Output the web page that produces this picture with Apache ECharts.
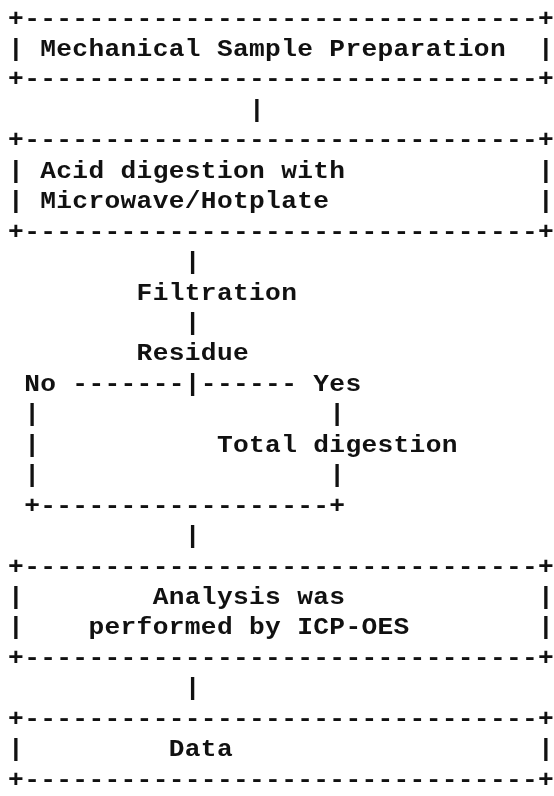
<!DOCTYPE html>
<html>
<head>
<meta charset="utf-8">
<script src="https://cdn.jsdelivr.net/npm/echarts@6/dist/echarts.min.js"></script>
<style>
html,body{margin:0;padding:0;background:#fff}
#main{width:554px;height:796px}
</style>
</head>
<body>
<div id="main"></div>
<script>
// one string per text row, 34 columns wide
var lines = [
	'+--------------------------------+',
	'| Mechanical Sample Preparation  |',
	'+--------------------------------+',
	'               |',
	'+--------------------------------+',
	'| Acid digestion with            |',
	'| Microwave/Hotplate             |',
	'+--------------------------------+',
	'           |',
	'        Filtration',
	'           |',
	'        Residue',
	' No -------|------ Yes',
	' |                  |',
	' |           Total digestion',
	' |                  |',
	' +------------------+',
	'           |',
	'+--------------------------------+',
	'|        Analysis was            |',
	'|    performed by ICP-OES        |',
	'+--------------------------------+',
	'           |',
	'+--------------------------------+',
	'|         Data                   |',
	'+--------------------------------+'
];
var rowIndex = [];
for (var i in lines) {
	rowIndex.push([0, Number(i)]);
}

var charW = 16.1;
var rowH = 30.84;
var myChart = echarts.init(document.getElementById('main'));
var option = {
	backgroundColor: '#fff',
	animation: false,
	grid: {
		left: 16 - charW / 2,
		top: 20 - rowH / 2,
		width: charW * 34,
		height: rowH * 26
	},
	xAxis: {type: 'value', min: 0, max: 34, show: false},
	yAxis: {type: 'value', min: -0.5, max: 25.5, inverse: true, show: false},
	series: [{
		type: 'custom',
		coordinateSystem: 'cartesian2d',
		data: rowIndex,
		encode: {x: 0, y: 1},
		renderItem: function (params, api) {
			var row = api.value(1);
			var text = lines[params.dataIndex];
			var children = [];
			for (var c = 0; c < text.length; c++) {
				var ch = text.charAt(c);
				if (ch === ' ') continue;
				var p = api.coord([c + 0.5, row]);
				children.push({
					type: 'text',
					x: p[0],
					y: p[1],
					scaleX: 1.14, // courier-like wide glyphs
					style: {
						text: ch,
						fontFamily: 'Liberation Mono',
						fontWeight: 'bold',
						fontSize: 23,
						fill: '#111',
						align: 'center',
						verticalAlign: 'middle'
					}
				});
			}
			return {type: 'group', children: children};
		}
	}]
};
myChart.setOption(option);
</script>
</body>
</html>
